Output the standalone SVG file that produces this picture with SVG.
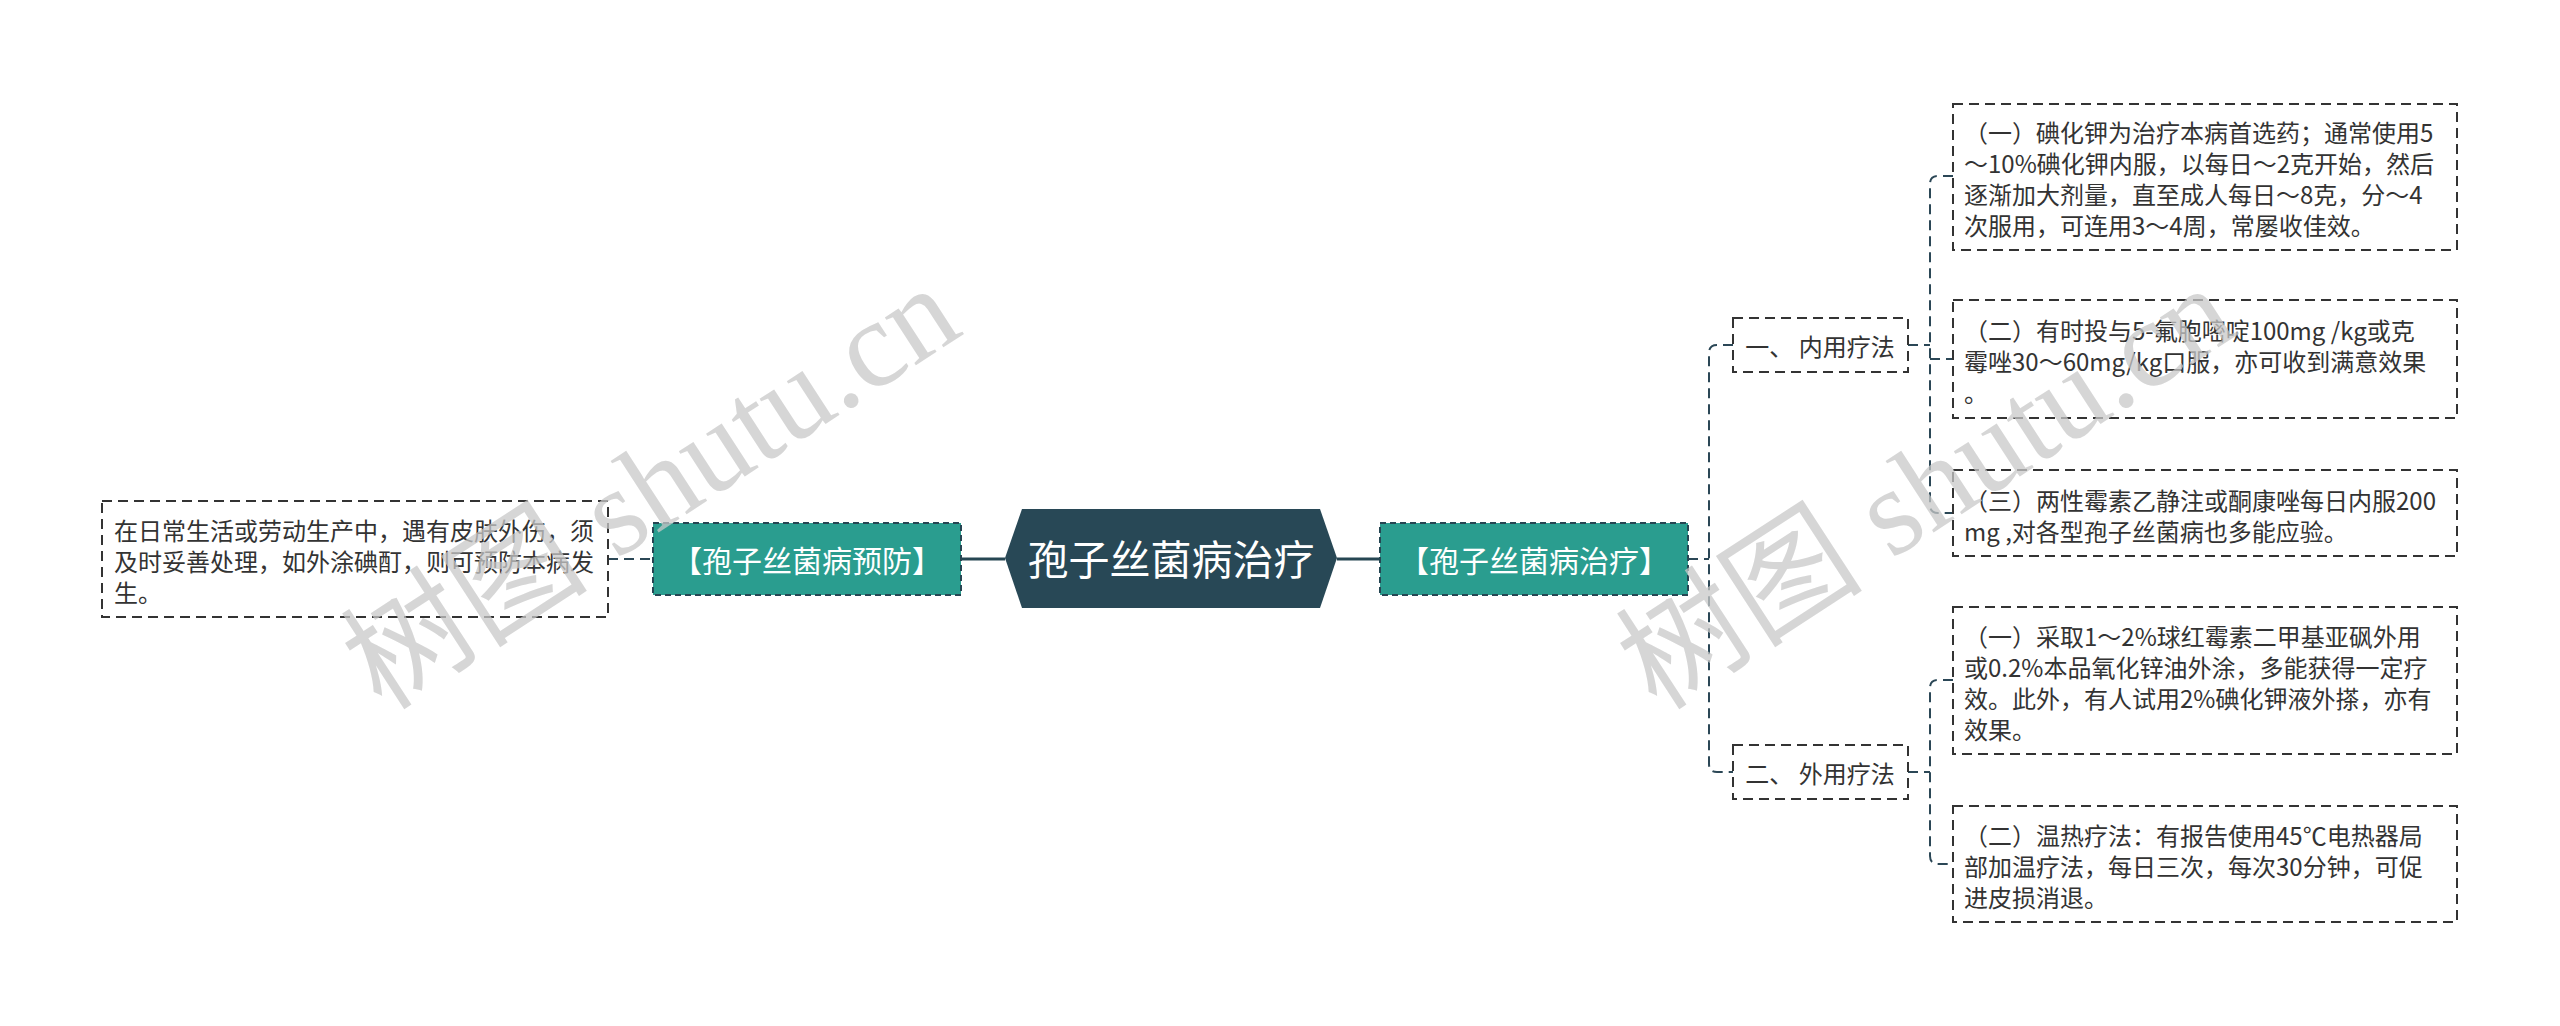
<svg xmlns="http://www.w3.org/2000/svg" width="2560" height="1026" viewBox="0 0 2560 1026">
<style>
text{font-family:"Noto Sans CJK SC","Noto Sans",sans-serif;}
.leaf rect{fill:#ffffff;stroke:#333333;stroke-width:2;stroke-dasharray:10 6;}
.leaf text{font-size:24px;fill:#333333;}
.sub rect{fill:#ffffff;stroke:#333333;stroke-width:2;stroke-dasharray:10 6;}
.sub text{font-size:24px;fill:#333333;text-anchor:middle;}
.main rect{fill:#2a9d8f;stroke:#264653;stroke-width:2;stroke-dasharray:6 4;}
.main text{font-size:30px;fill:#ffffff;text-anchor:middle;}
.dash{fill:none;stroke:#2b4756;stroke-width:2;stroke-dasharray:10 6;}
.solid{fill:none;stroke:#264653;stroke-width:3;}
.wm{font-family:"Liberation Serif","Noto Sans CJK SC",serif;font-size:124px;fill:#c8c8c8;fill-opacity:0.75;}
</style>
<rect width="2560" height="1026" fill="#ffffff"/>
<g id="connectors">
<path class="dash" d="M608,559 H653"/>
<path class="solid" d="M961,559 H1005"/>
<path class="solid" d="M1337,559 H1380"/>
<path class="dash" d="M1688,559 H1709"/>
<path class="dash" d="M1733,345 H1717 Q1709,345 1709,353 V764 Q1709,772 1717,772 H1733"/>
<path class="dash" d="M1908,345 H1930"/>
<path class="dash" d="M1953,176 H1938 Q1930,176 1930,184 V505 Q1930,513 1938,513 H1953"/>
<path class="dash" d="M1930,359 H1953"/>
<path class="dash" d="M1908,772 H1930"/>
<path class="dash" d="M1953,680 H1938 Q1930,680 1930,688 V856 Q1930,864 1938,864 H1953"/>
</g>
<g id="root">
<polygon points="1005,558 1022,509 1320,509 1337,558 1320,608 1022,608" fill="#284856"/>
<text x="1171" y="575" font-size="41" fill="#ffffff" text-anchor="middle">孢子丝菌病治疗</text>
</g>
<g id="prevent" class="main">
<rect x="653" y="523" width="308" height="72"/>
<text x="807" y="572">【孢子丝菌病预防】</text>
</g>
<g id="treat" class="main">
<rect x="1380" y="523" width="308" height="72"/>
<text x="1534" y="572">【孢子丝菌病治疗】</text>
</g>
<g id="prevent-leaf" class="leaf">
<rect x="102" y="501" width="506" height="116"/>
<text x="114" y="540">在日常生活或劳动生产中，遇有皮肤外伤，须</text>
<text x="114" y="571">及时妥善处理，如外涂碘酊，则可预防本病发</text>
<text x="114" y="602">生。</text>
</g>
<g id="internal" class="sub">
<rect x="1733" y="318" width="175" height="54"/>
<text x="1820" y="356">一、 内用疗法</text>
</g>
<g id="external" class="sub">
<rect x="1733" y="745" width="175" height="54"/>
<text x="1820" y="783">二、 外用疗法</text>
</g>
<g id="int-1" class="leaf">
<rect x="1953" y="104" width="504" height="146"/>
<text x="1964" y="142">（一）碘化钾为治疗本病首选药；通常使用5</text>
<text x="1964" y="173">～10%碘化钾内服，以每日～2克开始，然后</text>
<text x="1964" y="204">逐渐加大剂量，直至成人每日～8克，分～4</text>
<text x="1964" y="235">次服用，可连用3～4周，常屡收佳效。</text>
</g>
<g id="int-2" class="leaf">
<rect x="1953" y="300" width="504" height="118"/>
<text x="1964" y="340">（二）有时投与5-氟胞嘧啶100mg /kg或克</text>
<text x="1964" y="371">霉唑30～60mg/kg口服，亦可收到满意效果</text>
<text x="1964" y="402">。</text>
</g>
<g id="int-3" class="leaf">
<rect x="1953" y="470" width="504" height="86"/>
<text x="1964" y="510">（三）两性霉素乙静注或酮康唑每日内服200</text>
<text x="1964" y="541">mg ,对各型孢子丝菌病也多能应验。</text>
</g>
<g id="ext-1" class="leaf">
<rect x="1953" y="607" width="504" height="147"/>
<text x="1964" y="646">（一）采取1～2%球红霉素二甲基亚砜外用</text>
<text x="1964" y="677">或0.2%本品氧化锌油外涂，多能获得一定疗</text>
<text x="1964" y="708">效。此外，有人试用2%碘化钾液外搽，亦有</text>
<text x="1964" y="739">效果。</text>
</g>
<g id="ext-2" class="leaf">
<rect x="1953" y="806" width="504" height="116"/>
<text x="1964" y="845">（二）温热疗法：有报告使用45℃电热器局</text>
<text x="1964" y="876">部加温疗法，每日三次，每次30分钟，可促</text>
<text x="1964" y="907">进皮损消退。</text>
</g>
<g id="watermarks">
<text class="wm" transform="translate(382,712) rotate(-33)">树图 shutu.cn</text>
<text class="wm" transform="translate(1657,712) rotate(-33)">树图 shutu.cn</text>
</g>
</svg>
